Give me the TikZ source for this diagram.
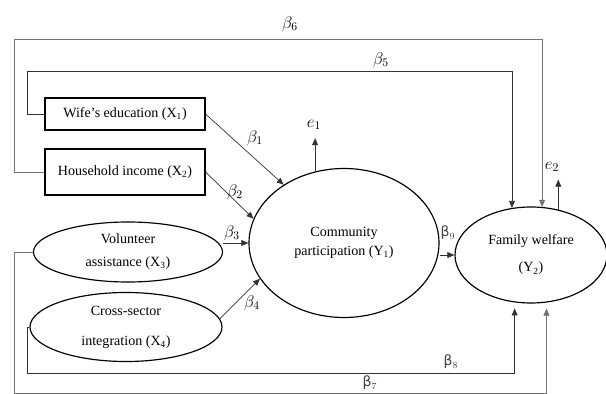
\documentclass[tikz,border=0pt]{standalone}
\usepackage{fontspec}
\setmainfont{Liberation Serif}
\newfontfamily\grkfont{DejaVu Sans}
\usetikzlibrary{shapes.geometric,arrows.meta,positioning}

\begin{document}
\begin{tikzpicture}[x=0.03cm, y=-0.03cm, >={Triangle[length=6pt,width=5pt]},
box/.style = {draw, line width=0.9pt, rectangle, minimum width=4.8cm, font=\fontsize{12}{14.5}\selectfont},
oval/.style = {draw, line width=1pt, ellipse, inner sep=0pt, align=center, font=\fontsize{12}{14.5}\selectfont},
link/.style = {->, line width=0.6pt, draw=black!80},
far/.style = {->, line width=0.6pt, draw=black!55},
lab/.style = {font=\fontsize{14}{16}\selectfont, inner sep=1pt},
grk/.style = {font=\fontsize{12}{14}\grkfont, text=black!75, inner sep=1pt}]
\useasboundingbox (0,0) rectangle (606,394);

\node[box, minimum height=0.96cm] (x1) at (125,114) {Wife's education (X\textsubscript{1})};
\node[box, minimum height=1.38cm] (x2) at (125,172) {Household income (X\textsubscript{2})};
\node[oval, minimum width=5.67cm, minimum height=1.8cm] (x3) at (128,252) {Volunteer\\[5pt]assistance (X\textsubscript{3})};
\node[oval, minimum width=5.76cm, minimum height=2.07cm] (x4) at (126,327) {Cross-sector\\[11pt]integration (X\textsubscript{4})};
\node[oval, minimum width=5.7cm, minimum height=4.47cm] (y1) at (344,243) {Community\\[1.5pt]participation (Y\textsubscript{1})};
\node[oval, minimum width=4.56cm, minimum height=2.88cm] (y2) at (531,255) {Family welfare\\[8.5pt](Y\textsubscript{2})};

\coordinate (c5) at (27,71);
\coordinate (c6) at (14,39);
\coordinate (c7) at (14,393);
\coordinate (c8) at (27,373);
\coordinate (e1) at ([yshift=1cm]y1.112);
\coordinate (e2) at ([yshift=0.9cm]y2.59);

\draw[link] (x1.east) -- (y1.136);
\draw[link] (x2.east) -- (y1.165);
\draw[link] (x3.east |- y1.west) -- (y1.west);
\draw[link] (x4.5) -- (y1.203);
\draw[link] (y1.east |- y2.west) -- (y2.west);
\draw[link] (y1.112) -- (e1);
\draw[link] (y2.59) -- (e2);

\draw[link] (x1.west) -| (c5) -| (y2.112);
\draw[far] (x2.west) -| (c6) -| (y2.77);
\draw[far, shorten >=0.18cm] (x3.west) -| (c7) -| (y2.288);
\draw[link, shorten >=0.18cm] (x4.west) -| (c8) -| (y2.251);

\node[lab] (b1) at (255,138) {$\beta_1$};
\node[lab] (b2) at (235,192) {$\beta_2$};
\node[lab] (b3) at (232,233) {$\beta_3$};
\node[lab] (b4) at (252,303) {$\beta_4$};
\node[lab] (b5) at (381,60) {$\beta_5$};
\node[lab] (b6) at (290,24) {$\beta_6$};
\node[grk] (b7) at (370,383) {β$_7$};
\node[grk] (b8) at (451,362) {β$_8$};
\node[grk] (b9) at (448,233) {β$_9$};
\node[lab] (e1l) at (314,125) {$e_1$};
\node[lab] (e2l) at (552,167) {$e_2$};

\end{tikzpicture}
\end{document}
